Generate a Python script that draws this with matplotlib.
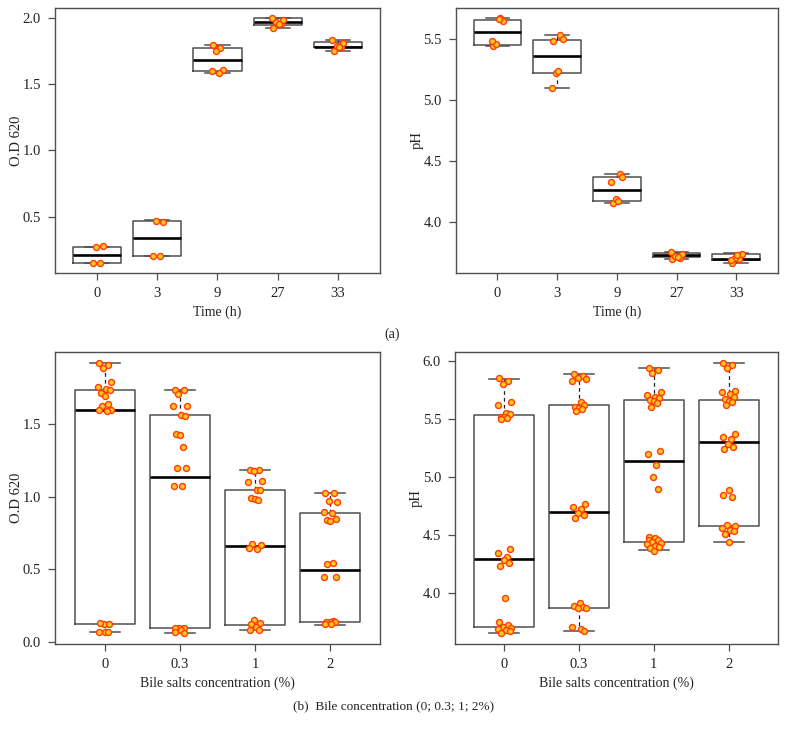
import matplotlib; matplotlib.use("Agg")
import matplotlib.pyplot as plt
import numpy as np

plt.rcParams["font.family"] = ["Liberation Serif", "DejaVu Serif"]
plt.rcParams["font.size"] = 10.5

EDGE = "#4f4f4f"
FILL = "#ffc81e"
RING = "#ff3c0a"
JIT = [-0.07, 0.05, -0.02, 0.09, -0.09, 0.02, 0.07, -0.05, 0.0, 0.04, -0.04, 0.08,
       -0.08, 0.03, -0.01, 0.06, -0.06, 0.01]

time_labels = ["0", "3", "9", "27", "33"]
bile_labels = ["0", "0.3", "1", "2"]

# box stats per group: (lower whisker, Q1, median, Q3, upper whisker)
od_time_box = [(0.148, 0.149, 0.212, 0.267, 0.272),
               (0.200, 0.202, 0.335, 0.465, 0.470),
               (1.583, 1.600, 1.680, 1.772, 1.792),
               (1.924, 1.949, 1.970, 1.995, 2.000),
               (1.752, 1.777, 1.782, 1.815, 1.835)]
od_time_pts = [[0.150, 0.148, 0.270, 0.275],
               [0.200, 0.205, 0.468, 0.462],
               [1.792, 1.772, 1.752, 1.608, 1.595, 1.583],
               [1.921, 1.952, 1.967, 1.982, 2.000, 1.955],
               [1.752, 1.778, 1.790, 1.810, 1.835, 1.780]]

ph_time_box = [(5.440, 5.453, 5.560, 5.659, 5.668),
               (5.097, 5.220, 5.357, 5.494, 5.535),
               (4.148, 4.170, 4.258, 4.362, 4.392),
               (3.690, 3.707, 3.726, 3.745, 3.750),
               (3.658, 3.680, 3.694, 3.732, 3.740)]
ph_time_pts = [[5.440, 5.673, 5.459, 5.650, 5.480, 5.660],
               [5.480, 5.535, 5.220, 5.500, 5.097, 5.240],
               [4.148, 4.392, 4.187, 4.362, 4.321, 4.170],
               [3.690, 3.704, 3.718, 3.734, 3.748, 3.710],
               [3.658, 3.690, 3.700, 3.735, 3.680, 3.725]]

od_bile_box = [(0.070, 0.123, 1.591, 1.733, 1.920),
               (0.062, 0.098, 1.132, 1.557, 1.733),
               (0.084, 0.121, 0.658, 1.043, 1.180),
               (0.121, 0.142, 0.493, 0.888, 1.025)]
od_bile_pts = [[1.920, 1.904, 1.879, 1.788, 1.751, 1.738, 1.731, 1.708, 1.690, 1.632,
                1.621, 1.596, 1.591, 1.587, 0.125, 0.128, 0.130, 0.070, 0.070, 0.072],
               [1.733, 1.728, 1.705, 1.623, 1.621, 1.557, 1.555, 1.429, 1.425, 1.338,
                1.196, 1.194, 1.075, 1.073, 0.100, 0.100, 0.095, 0.085, 0.070, 0.066],
               [1.185, 1.180, 1.173, 1.105, 1.100, 1.048, 1.043, 0.991, 0.986, 0.979,
                0.671, 0.669, 0.644, 0.642, 0.153, 0.130, 0.123, 0.107, 0.085, 0.082],
               [1.025, 1.021, 0.968, 0.963, 0.893, 0.886, 0.849, 0.842, 0.833, 0.543,
                0.539, 0.450, 0.445, 0.145, 0.142, 0.140, 0.138, 0.125, 0.122]]

ph_bile_box = [(3.657, 3.710, 4.295, 5.537, 5.848),
               (3.673, 3.877, 4.700, 5.617, 5.886),
               (4.369, 4.443, 5.140, 5.666, 5.943),
               (4.443, 4.580, 5.300, 5.660, 5.986)]
ph_bile_pts = [[5.852, 5.829, 5.800, 5.649, 5.623, 5.549, 5.540, 5.520, 5.514, 5.506,
                5.497, 4.383, 4.343, 4.309, 4.286, 4.258, 4.235, 3.958, 3.750, 3.727,
                3.713, 3.700, 3.690, 3.686, 3.677, 3.657],
               [5.886, 5.871, 5.857, 5.843, 5.823, 5.643, 5.623, 5.606, 5.595, 5.586,
                5.566, 4.772, 4.743, 4.723, 4.691, 4.674, 4.651, 3.914, 3.889, 3.880,
                3.875, 3.872, 3.710, 3.696, 3.673],
               [5.943, 5.920, 5.900, 5.729, 5.709, 5.686, 5.680, 5.663, 5.651, 5.634,
                5.606, 5.223, 5.200, 5.100, 5.000, 4.900, 4.486, 4.480, 4.463, 4.460,
                4.443, 4.429, 4.425, 4.406, 4.400, 4.386, 4.366],
               [5.986, 5.963, 5.943, 5.743, 5.729, 5.714, 5.691, 5.671, 5.657, 5.643,
                5.623, 5.372, 5.343, 5.329, 5.286, 5.263, 5.243, 4.886, 4.843, 4.829,
                4.592, 4.580, 4.566, 4.549, 4.537, 4.514, 4.443]]


def panel(rect, labels, box, pts, yticks, ylabel, xlabel):
    ax = fig.add_axes(rect)
    n = len(labels)
    pos = np.arange(1, n + 1)
    stats = [dict(whislo=b[0], q1=b[1], med=b[2], q3=b[3], whishi=b[4], fliers=[])
             for b in box]
    ax.bxp(stats, positions=pos, widths=0.8, capwidths=0.4, showfliers=False,
           boxprops=dict(color=EDGE, lw=1.1),
           medianprops=dict(color="black", lw=1.9),
           whiskerprops=dict(color="#222222", lw=0.9, ls=(0, (3, 2.5))),
           capprops=dict(color=EDGE, lw=1.1))
    for p, vals in zip(pos, pts):
        xs = p + np.array(JIT[:len(vals)] + JIT[:max(0, len(vals) - len(JIT))])
        ax.plot(xs, vals, "o", ms=4.3, mfc=FILL, mec=RING, mew=1.0, zorder=5)
    allv = np.concatenate([np.ravel(box)] + [np.ravel(v) for v in pts])
    lo, hi = allv.min(), allv.max()
    pad = 0.04 * (hi - lo)
    ax.set_ylim(lo - pad, hi + pad)
    ax.set_xlim(0.5 - 0.04 * n, n + 0.5 + 0.04 * n)
    ax.set_xticks(pos)
    ax.set_xticklabels(labels)
    ax.set_yticks(yticks)
    ax.set_yticklabels([f"{t:.1f}" for t in yticks])
    for s in ax.spines.values():
        s.set_color(EDGE)
        s.set_linewidth(1.0)
    ax.tick_params(direction="out", length=5, width=0.9, color=EDGE,
                   labelcolor="#222222", pad=5)
    ax.set_ylabel(ylabel, labelpad=0, color="#222222")
    ax.set_xlabel(xlabel, labelpad=4, color="#222222", fontsize=10)
    return ax


fig = plt.figure(figsize=(7.87, 7.33), dpi=100)
fig.patch.set_facecolor("white")

panel([0.0699, 0.6276, 0.4129, 0.3615], time_labels, od_time_box, od_time_pts,
      [0.5, 1.0, 1.5, 2.0], "O.D 620", "Time (h)")
panel([0.579, 0.6276, 0.4096, 0.3615], time_labels, ph_time_box, ph_time_pts,
      [4.0, 4.5, 5.0, 5.5], "pH", "Time (h)")
panel([0.0699, 0.1214, 0.4129, 0.3988], bile_labels, od_bile_box, od_bile_pts,
      [0.0, 0.5, 1.0, 1.5], "O.D 620", "Bile salts concentration (%)")
panel([0.5781, 0.1214, 0.4104, 0.3988], bile_labels, ph_bile_box, ph_bile_pts,
      [4.0, 4.5, 5.0, 5.5, 6.0], "pH", "Bile salts concentration (%)")

fig.text(0.498, 0.5443, "(a)", ha="center", va="center", color="#222222", fontsize=10)
fig.text(0.5, 0.036, "(b)  Bile concentration (0; 0.3; 1; 2%)", ha="center",
         va="center", color="#222222", fontsize=9.5)

fig.savefig("out.png", dpi=100, facecolor="white")
